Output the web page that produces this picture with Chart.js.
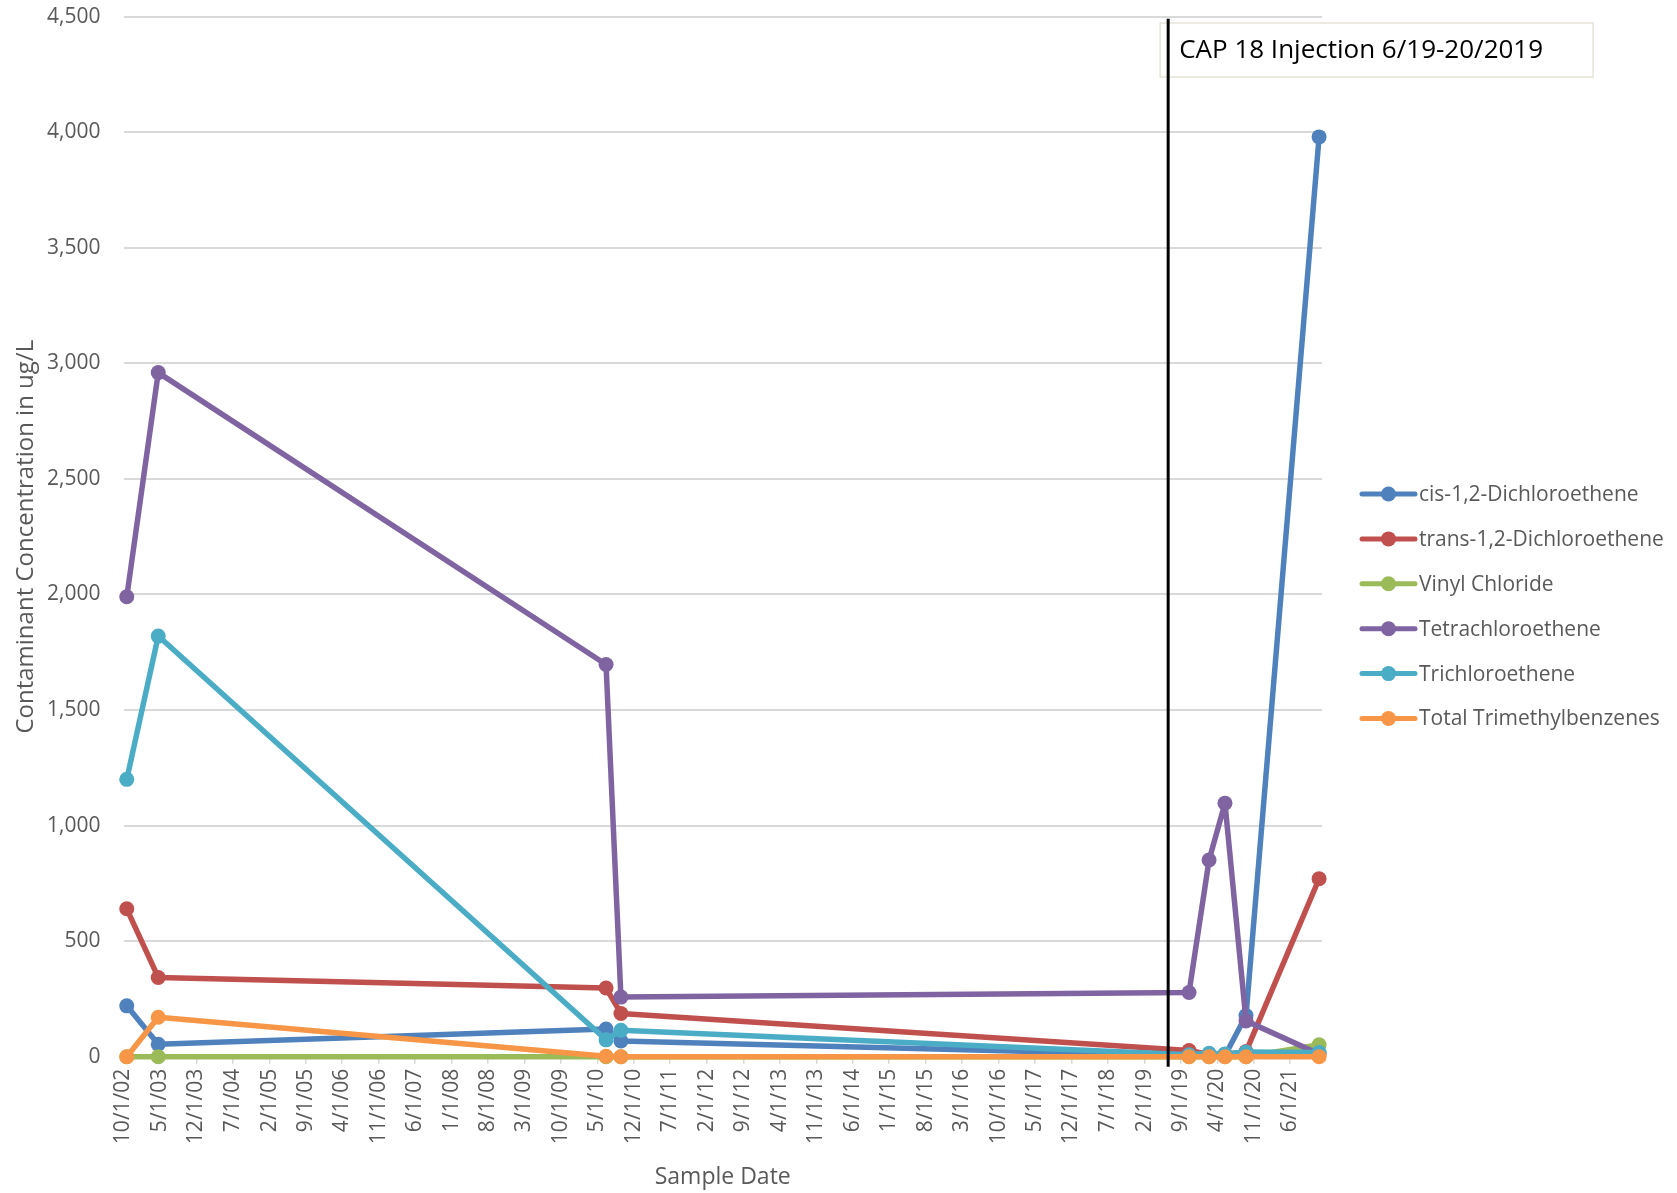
<!DOCTYPE html>
<html>
<head>
<meta charset="utf-8">
<script src="https://cdn.jsdelivr.net/npm/chart.js@4.4.0/dist/chart.umd.min.js"></script>
<style>
  html, body { margin: 0; padding: 0; background: #ffffff; }
  #wrap { width: 1677px; height: 1193px; position: relative; }
</style>
</head>
<body>
<div id="wrap"><canvas id="c" width="1677" height="1193"></canvas></div>
<script>
// Sampling events (m/d/yyyy)
const sampleDates = ['10/20/2002', '4/22/2003', '6/21/2010', '9/16/2010', '10/19/2019', '2/13/2020', '5/16/2020', '9/16/2020', '11/17/2021'];

// Concentrations in ug/L, one value per sampling event
const cisDCE            = [220, 54, 120, 68, 5, 5, 5, 178, 3980];
const transDCE          = [640, 343, 297, 187, 27, 10, 10, 22, 770];
const vinylChloride     = [0, 0, 0, 0, 0, 0, 0, 0, 52];
const tetrachloroethene = [1990, 2960, 1697, 258, 278, 851, 1097, 155, 12];
const trichloroethene   = [1200, 1820, 73, 114, 8, 15, 12, 20, 18];
const trimethylbenzenes = [0, 171, 2, 0, 0, 0, 0, 0, 0];

const seriesNames = ['cis-1,2-Dichloroethene', 'trans-1,2-Dichloroethene', 'Vinyl Chloride',
                     'Tetrachloroethene', 'Trichloroethene', 'Total Trimethylbenzenes'];
const seriesValues = [cisDCE, transDCE, vinylChloride, tetrachloroethene, trichloroethene, trimethylbenzenes];
const seriesColors = ['#4F81BD', '#C0504D', '#9BBB59', '#8064A2', '#4BACC6', '#F79646'];

// Date axis labels, one every seven months
const tickLabels = ['10/1/02', '5/1/03', '12/1/03', '7/1/04', '2/1/05', '9/1/05', '4/1/06', '11/1/06',
  '6/1/07', '1/1/08', '8/1/08', '3/1/09', '10/1/09', '5/1/10', '12/1/10', '7/1/11', '2/1/12', '9/1/12',
  '4/1/13', '11/1/13', '6/1/14', '1/1/15', '8/1/15', '3/1/16', '10/1/16', '5/1/17', '12/1/17', '7/1/18',
  '2/1/19', '9/1/19', '4/1/20', '11/1/20', '6/1/21'];
const axisStart = '10/1/02';
const axisEnd = '12/4/21';

const yMax = 4500;
const yStep = 500;

const injectionDate = '6/19/2019';
const injectionLabel = 'CAP 18 Injection 6/19-20/2019';

const FONT = "'Open Sans', 'Noto Sans', sans-serif";
const TEXT_GREY = '#595959';
const GRID_GREY = '#d9d9d9';

// m/d/yy or m/d/yyyy -> whole days since 1970-01-01
function toDay(s) {
  const [m, d, y] = s.split('/').map(Number);
  const year = y < 100 ? 2000 + y : y;
  return Date.UTC(year, m - 1, d) / 86400000;
}

const tickValues = tickLabels.map(toDay);

const datasets = seriesNames.map((name, i) => ({
  label: name,
  data: sampleDates.map((d, k) => ({ x: toDay(d), y: seriesValues[i][k] })),
  borderColor: seriesColors[i],
  backgroundColor: seriesColors[i],
  borderWidth: 5.5,
  borderJoinStyle: 'round',
  borderCapStyle: 'round',
  pointRadius: 7.5,
  pointBorderWidth: 0,
  pointHoverRadius: 7.5,
  tension: 0,
  clip: false,
  // later series sit on top of earlier ones
  order: seriesNames.length - i
}));

// Injection marker: vertical rule plus caption box
const injectionPlugin = {
  id: 'injection',
  afterDatasetsDraw(chart) {
    const { ctx, chartArea, scales } = chart;
    const x = scales.x.getPixelForValue(toDay(injectionDate));
    ctx.save();
    // caption box
    const bx = x - 8, by = 23, bw = 433, bh = 54;
    ctx.fillStyle = '#ffffff';
    ctx.fillRect(bx, by, bw, bh);
    ctx.strokeStyle = '#e7e3d9';
    ctx.lineWidth = 1.5;
    ctx.strokeRect(bx, by, bw, bh);
    ctx.fillStyle = '#000000';
    ctx.font = "26px " + FONT;
    ctx.textBaseline = 'middle';
    ctx.textAlign = 'left';
    ctx.fillText(injectionLabel, bx + 19, by + bh / 2 + 1);
    // vertical rule
    ctx.strokeStyle = '#000000';
    ctx.lineWidth = 3;
    ctx.beginPath();
    ctx.moveTo(x, chartArea.top + 2);
    ctx.lineTo(x, chartArea.bottom + 10);
    ctx.stroke();
    ctx.restore();
  }
};

// Legend at the right: line with a round marker, then the series name
const legendPlugin = {
  id: 'sideLegend',
  afterDraw(chart) {
    const { ctx } = chart;
    ctx.save();
    ctx.font = "21px " + FONT;
    ctx.textBaseline = 'middle';
    ctx.textAlign = 'left';
    chart.data.datasets.forEach((ds, i) => {
      const y = 494 + i * 44.9;
      ctx.strokeStyle = ds.borderColor;
      ctx.lineWidth = 5;
      ctx.lineCap = 'round';
      ctx.beginPath();
      ctx.moveTo(1362, y);
      ctx.lineTo(1415, y);
      ctx.stroke();
      ctx.fillStyle = ds.borderColor;
      ctx.beginPath();
      ctx.arc(1388.5, y, 7.5, 0, Math.PI * 2);
      ctx.fill();
      ctx.fillStyle = TEXT_GREY;
      ctx.fillText(ds.label, 1419, y + 1);
    });
    ctx.restore();
  }
};

function build() {
  new Chart(document.getElementById('c'), {
    type: 'line',
    data: { datasets },
    options: {
      responsive: false,
      animation: false,
      events: [],
      layout: { padding: { left: 0, top: 16.7, right: 355, bottom: 0 } },
      plugins: { legend: { display: false }, tooltip: { enabled: false } },
      scales: {
        x: {
          type: 'linear',
          min: toDay(axisStart),
          max: toDay(axisEnd),
          afterBuildTicks(scale) { scale.ticks = tickValues.map(v => ({ value: v })); },
          afterFit(scale) {
            scale.height = 136.3;
            scale.paddingLeft = 0;
            scale.paddingRight = 0;
          },
          grid: { drawOnChartArea: false, drawTicks: true, tickLength: 7, color: GRID_GREY, lineWidth: 1.5 },
          border: { display: true, color: GRID_GREY, width: 2 },
          ticks: {
            autoSkip: false, maxRotation: 90, minRotation: 90, padding: 5,
            color: TEXT_GREY, font: { family: FONT, size: 21 },
            callback: (v, i) => tickLabels[i]
          },
          title: {
            display: true, text: 'Sample Date', color: TEXT_GREY,
            font: { family: FONT, size: 23 }, padding: { top: 0, bottom: 2 }
          }
        },
        y: {
          min: 0,
          max: yMax,
          afterFit(scale) {
            scale.width = 123.5;
            scale.paddingTop = 0;
            scale.paddingBottom = 0;
          },
          grid: { color: GRID_GREY, lineWidth: 2, drawTicks: false },
          border: { display: false },
          ticks: {
            stepSize: yStep, padding: 23, color: TEXT_GREY,
            font: { family: FONT, size: 21 },
            callback: v => v.toLocaleString('en-US')
          },
          title: {
            display: true, text: 'Contaminant Concentration in ug/L', color: TEXT_GREY,
            font: { family: FONT, size: 24 }, padding: { top: 12, bottom: 0 }
          }
        }
      }
    },
    plugins: [injectionPlugin, legendPlugin]
  });
}

if (document.fonts && document.fonts.load) {
  Promise.all([
    document.fonts.load("21px 'Open Sans'"),
    document.fonts.load("26px 'Open Sans'")
  ]).then(build, build);
} else {
  build();
}
</script>
</body>
</html>
